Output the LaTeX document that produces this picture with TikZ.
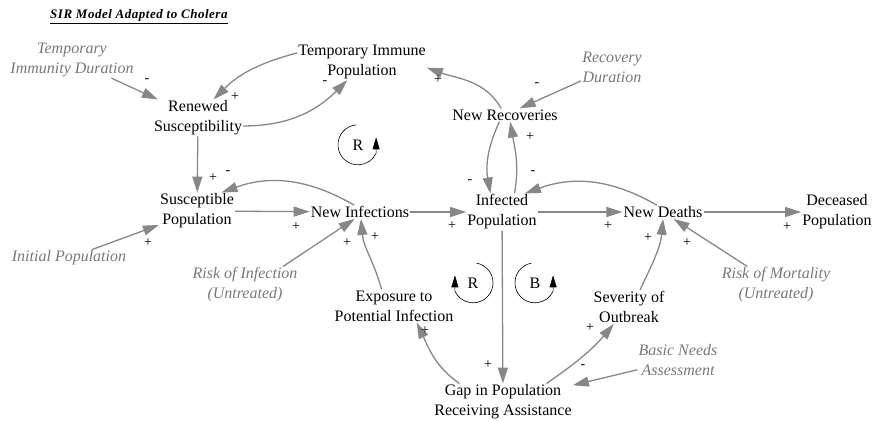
\documentclass[tikz,border=0pt]{standalone}
\usepackage{fontspec}
\setmainfont{Liberation Serif}
\usetikzlibrary{arrows.meta}
\definecolor{linegray}{RGB}{135,135,135}
\definecolor{textgray}{RGB}{120,120,120}
\tikzstyle{stock} = [align=center, inner sep=1pt, font=\fontsize{16}{20}\selectfont]
\tikzstyle{auxvar} = [stock, text=textgray, font=\fontsize{16}{20}\selectfont\itshape]
\tikzstyle{polarity} = [inner sep=0pt, font=\fontsize{14}{14}\selectfont]
\tikzstyle{loopsym} = [circle, inner sep=0pt, minimum size=40pt, font=\fontsize{16}{20}\selectfont]
\tikzstyle{arrow} = [draw=linegray, line width=1.3pt, -{Triangle[length=16pt,width=10pt]}]
\tikzstyle{looparrow} = [black, line width=0.6pt, -{Triangle[length=12pt,width=7pt]}]

\begin{document}
\begin{tikzpicture}[x=1pt, y=1pt]
        \useasboundingbox (0,0) rectangle (872,-420);
        \node (title) [anchor=base west, inner sep=0pt, font=\fontsize{13}{15}\selectfont\bfseries\itshape\addfontfeatures{LetterSpace=4}] at (50,-19) {\underline{SIR Model Adapted to Cholera}};
        % variables
        \node (tid) [auxvar] at (72,-60) {Temporary\\Immunity Duration};
        \node (tip) [stock] at (362,-62) {Temporary Immune\\Population};
        \node (renew) [stock] at (198,-118) {Renewed\\Susceptibility};
        \node (sus) [stock] at (197,-211) {Susceptible\\Population};
        \node (ni) [stock] at (360,-212) {New Infections};
        \node (inf) [stock] at (502,-212) {Infected\\Population};
        \node (nd) [stock] at (663,-212) {New Deaths};
        \node (dec) [stock] at (837,-212) {Deceased\\Population};
        \node (nr) [stock] at (505,-115) {New Recoveries};
        \node (rd) [auxvar] at (612,-67) {Recovery\\Duration};
        \node (ip) [auxvar] at (69,-258) {Initial Population};
        \node (roi) [auxvar] at (245,-285) {Risk of Infection\\(Untreated)};
        \node (expo) [stock] at (394,-306) {Exposure to\\Potential Infection};
        \node (sev) [stock] at (629,-307) {Severity of\\Outbreak};
        \node (rom) [auxvar] at (776,-285) {Risk of Mortality\\(Untreated)};
        \node (bna) [auxvar] at (678,-360) {Basic Needs\\Assessment};
        \node (gap) [stock] at (503,-402) {Gap in Population\\Receiving Assistance};
        % loops
        \node (rup) [loopsym] at (358,-145) {R};
        \node (rlow) [loopsym] at (473,-283) {R};
        \node (blow) [loopsym] at (535,-283) {B};
        \draw [looparrow] (rup.95) arc[start angle=95, end angle=335, radius=20pt] -- ++(0,16);
        \draw [looparrow] (rlow.80) arc[start angle=80, end angle=-155, radius=20pt] -- ++(0,16);
        \draw [looparrow] (blow.100) arc[start angle=100, end angle=335, radius=20pt] -- ++(0,16);
        % links
        \draw [arrow] (tid) -- (renew);
        \draw [arrow] (tip.172) to[out=195, in=45] (renew.50);
        \draw [arrow] (renew.-10) to[out=0, in=225] (tip.231);
        \draw [arrow] (renew) -- (sus);
        \draw [arrow] (ni.130) to[out=150, in=20] (sus.37);
        \draw [arrow] (sus) -- (ni);
        \draw [arrow] (ip) -- (sus);
        \draw [arrow] (roi.26) -- (ni.232);
        \draw [arrow] (expo.127) to[out=105, in=275] (ni.-82);
        \draw [arrow] (ni) -- (inf);
        \draw [arrow] (inf.56) to[out=80, in=280] (nr.-52);
        \draw [arrow] (nr.230) to[out=245, in=100] (inf.122);
        \draw [arrow] (nr.120) to[out=120, in=340] (tip.-5);
        \draw [arrow] (rd) -- (nr);
        \draw [arrow] (nd.132) to[out=150, in=20] (inf.39);
        \draw [arrow] (inf) -- (nd);
        \draw [arrow] (nd) -- (dec);
        \draw [arrow] (sev.57) to[out=65, in=265] (nd.south);
        \draw [arrow] (rom) -- (nd);
        \draw [arrow] (inf) -- (gap);
        \draw [arrow] (gap.157) to[out=145, in=295] (expo.-36);
        \draw [arrow] (gap.23) to[out=35, in=230] (sev.228);
        \draw [arrow] (bna) -- (gap);
        % polarities
        \node (p1) [polarity] at (147,-81) {-};
        \node (p2) [polarity] at (235,-97) {+};
        \node (p3) [polarity] at (325,-83) {-};
        \node (p4) [polarity] at (213,-178) {+};
        \node (p5) [polarity] at (228,-173) {-};
        \node (p6) [polarity] at (296,-227) {+};
        \node (p7) [polarity] at (148,-243) {+};
        \node (p8) [polarity] at (347,-243) {+};
        \node (p9) [polarity] at (375,-237) {+};
        \node (p10) [polarity] at (452,-226) {+};
        \node (p11) [polarity] at (530,-137) {+};
        \node (p12) [polarity] at (470,-182) {-};
        \node (p13) [polarity] at (438,-80) {+};
        \node (p14) [polarity] at (537,-85) {-};
        \node (p15) [polarity] at (533,-173) {-};
        \node (p16) [polarity] at (608,-226) {+};
        \node (p17) [polarity] at (787,-227) {+};
        \node (p18) [polarity] at (648,-238) {+};
        \node (p19) [polarity] at (687,-243) {+};
        \node (p20) [polarity] at (488,-365) {+};
        \node (p21) [polarity] at (425,-331) {+};
        \node (p22) [polarity] at (590,-328) {+};
        \node (p23) [polarity] at (583,-367) {-};
      \end{tikzpicture}
\end{document}
